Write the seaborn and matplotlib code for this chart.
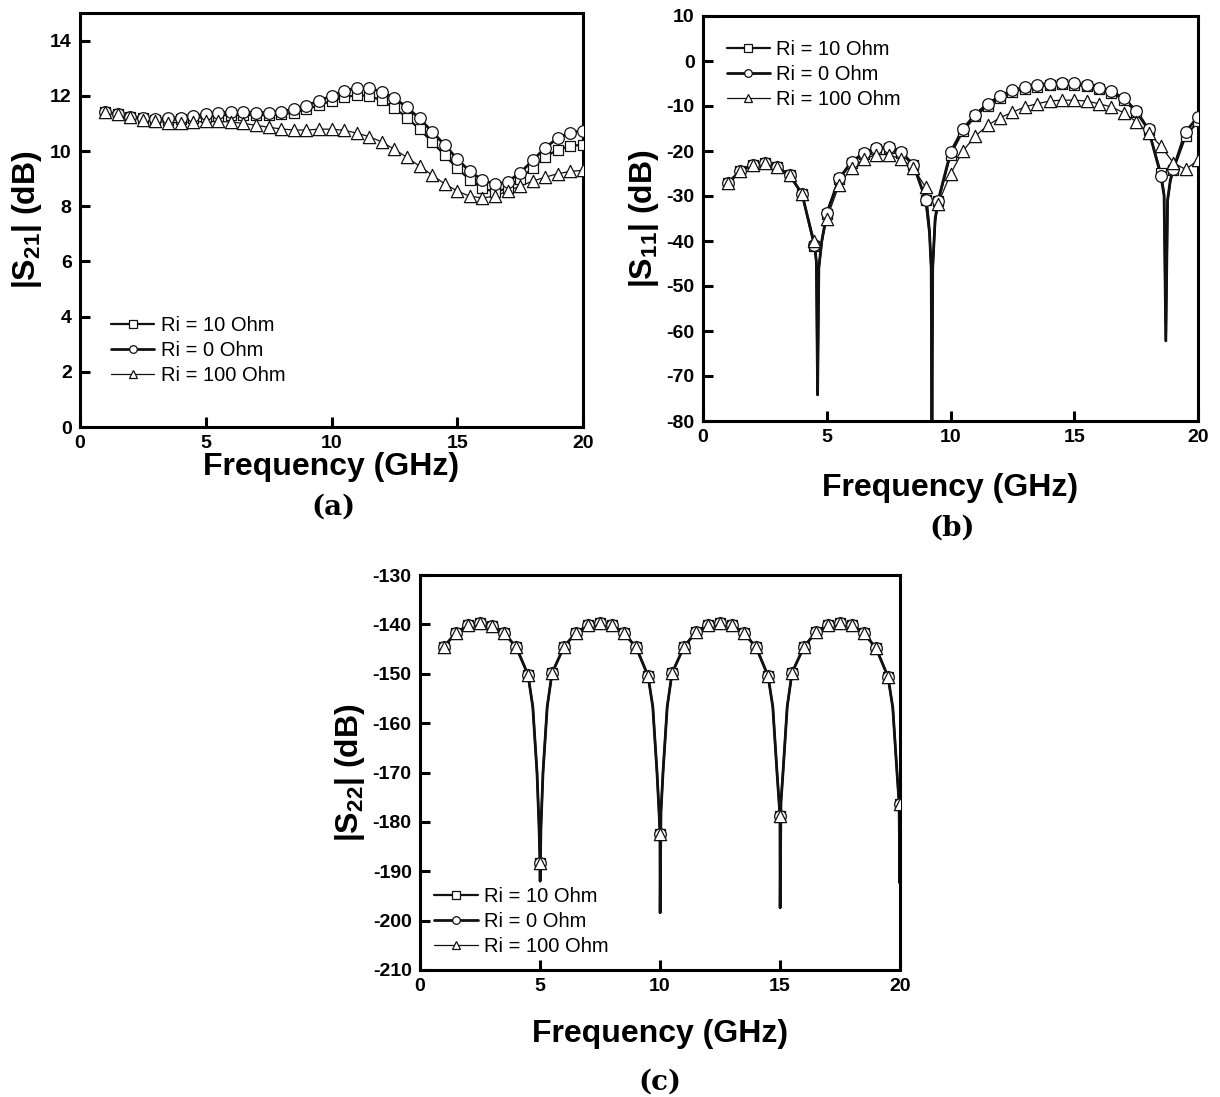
import matplotlib
matplotlib.use("Agg")
import matplotlib.pyplot as plt
import seaborn as sns
import pandas as pd
from matplotlib.lines import Line2D

# ---------------- data ----------------
freq = [1.0, 1.5, 2.0, 2.5, 3.0, 3.5, 4.0, 4.5, 5.0, 5.5, 6.0, 6.5, 7.0, 7.5, 8.0, 8.5,
        9.0, 9.5, 10.0, 10.5, 11.0, 11.5, 12.0, 12.5, 13.0, 13.5, 14.0, 14.5, 15.0,
        15.5, 16.0, 16.5, 17.0, 17.5, 18.0, 18.5, 19.0, 19.5, 20.0]

series_labels = ["Ri = 10 Ohm", "Ri = 0 Ohm", "Ri = 100 Ohm"]

# (a) |S21|
s21_ri10 = [11.43, 11.33, 11.25, 11.19, 11.13, 11.13, 11.15, 11.19, 11.24, 11.28, 11.31, 11.31,
            11.30, 11.30, 11.33, 11.39, 11.52, 11.66, 11.82, 11.95, 12.02, 12.00, 11.83, 11.56,
            11.21, 10.79, 10.33, 9.85, 9.37, 8.96, 8.65, 8.52, 8.65, 9.00, 9.39, 9.79, 10.05,
            10.18, 10.23]
s21_ri0 = [11.43, 11.33, 11.25, 11.19, 11.15, 11.18, 11.21, 11.27, 11.33, 11.38, 11.41, 11.41,
           11.39, 11.39, 11.42, 11.52, 11.64, 11.82, 12.00, 12.18, 12.28, 12.27, 12.15, 11.92,
           11.58, 11.18, 10.70, 10.22, 9.71, 9.26, 8.95, 8.79, 8.88, 9.21, 9.66, 10.12, 10.47,
           10.67, 10.73]
s21_ri100 = [11.43, 11.33, 11.24, 11.13, 11.07, 11.03, 11.03, 11.05, 11.07, 11.07, 11.05, 11.00,
             10.93, 10.86, 10.80, 10.76, 10.76, 10.79, 10.79, 10.75, 10.65, 10.52, 10.33, 10.06,
             9.77, 9.45, 9.13, 8.81, 8.55, 8.36, 8.30, 8.36, 8.55, 8.73, 8.91, 9.05, 9.18,
             9.26, 9.30]

# (b) |S11|
s11_ri10 = [-27.1, -24.5, -23.0, -22.6, -23.6, -25.4, -29.5, -41.2, -34.0, -26.3, -22.6, -20.6,
            -19.5, -19.4, -20.4, -23.2, -30.8, -31.2, -20.8, -15.6, -12.3, -9.9, -8.2, -6.9,
            -6.2, -5.7, -5.4, -5.2, -5.3, -5.6, -6.2, -7.0, -8.6, -11.3, -15.4, -24.9, -24.3,
            -16.7, -13.4]
s11_ri0 = [-27.1, -24.5, -23.0, -22.6, -23.6, -25.4, -29.5, -40.8, -33.8, -26.1, -22.4, -20.4,
           -19.3, -19.2, -20.2, -23.0, -30.8, -31.0, -20.3, -15.1, -11.9, -9.5, -7.8, -6.5,
           -5.8, -5.3, -5.0, -4.8, -4.9, -5.3, -5.9, -6.7, -8.3, -11.0, -15.2, -25.5, -24.0,
           -15.7, -12.4]
s11_ri100 = [-27.1, -24.5, -23.0, -22.6, -23.6, -25.4, -29.5, -40.1, -35.1, -27.5, -23.8, -21.8,
             -20.8, -20.8, -21.8, -23.8, -28.1, -31.7, -25.1, -20.0, -16.7, -14.3, -12.6, -11.4,
             -10.2, -9.5, -8.9, -8.7, -8.7, -8.9, -9.5, -10.2, -11.5, -13.5, -16.0, -18.9, -22.6,
             -24.1, -22.0]
# extra line points (no markers) read around the narrow resonance dips
s11_dip_f_ri0 = [4.58, 4.63, 4.68, 4.80, 9.15, 9.22, 9.25, 9.28, 9.38, 18.63, 18.70, 18.77, 18.88]
s11_dip_v_ri0 = [-44.5, -74.2, -46.0, -40.0, -38.0, -46.0, -85.0, -46.0, -35.0, -30.0, -62.2, -31.0, -26.5]
s11_dip_f_ri10 = [4.58, 4.63, 4.68, 4.80, 9.15, 9.22, 9.25, 9.28, 9.38, 18.63, 18.70, 18.77, 18.88]
s11_dip_v_ri10 = [-44.5, -74.2, -46.0, -40.0, -38.0, -46.0, -85.0, -46.0, -35.5, -29.5, -62.2, -31.0, -26.8]
s11_dip_f_ri100 = [4.58, 4.63, 4.68, 4.80, 9.15, 9.22, 9.25, 9.28, 9.38]
s11_dip_v_ri100 = [-44.0, -74.2, -46.0, -40.5, -36.0, -46.0, -85.0, -46.0, -36.0]

# (c) |S22| (all three series coincide)
s22_ri10 = [-144.5, -141.7, -140.2, -139.8, -140.3, -141.8, -144.5, -150.2, -188.3, -149.9,
            -144.5, -141.7, -140.2, -139.8, -140.2, -141.8, -144.6, -150.4, -182.5, -149.9,
            -144.5, -141.6, -140.2, -139.8, -140.2, -141.8, -144.6, -150.4, -178.9, -149.8,
            -144.5, -141.6, -140.2, -139.7, -140.2, -141.8, -144.8, -150.6, -176.4]
s22_ri0 = list(s22_ri10)
s22_ri100 = list(s22_ri10)
s22_dip_f = [4.70, 4.875, 4.96, 5.005, 5.04, 5.125, 5.30,
             9.70, 9.875, 9.96, 10.005, 10.04, 10.125, 10.30,
             14.70, 14.875, 14.96, 15.005, 15.04, 15.125, 15.30,
             19.70, 19.875, 19.96, 19.995]
s22_dip_v = [-156.7, -170.0, -181.0, -192.0, -181.0, -170.0, -156.7,
             -156.7, -170.0, -178.0, -198.4, -178.0, -170.0, -156.7,
             -156.7, -170.0, -176.0, -197.4, -176.0, -170.0, -156.7,
             -156.9, -170.0, -176.0, -192.4]

# ---------------- style ----------------
sns.set_theme(style="white")
plt.rcParams["font.family"] = ["Liberation Sans", "DejaVu Sans"]
plt.rcParams["axes.unicode_minus"] = False
plt.rcParams["mathtext.fontset"] = "custom"
plt.rcParams["mathtext.rm"] = "Liberation Sans:bold"
plt.rcParams["mathtext.bf"] = "Liberation Sans:bold"
plt.rcParams["mathtext.default"] = "rm"
for k in ["text.color", "axes.labelcolor", "xtick.color", "ytick.color", "axes.edgecolor"]:
    plt.rcParams[k] = "black"

INK = "#111111"
mk_style = {"Ri = 10 Ohm": ("s", 1.6, 52),
            "Ri = 0 Ohm": ("o", 2.0, 70),
            "Ri = 100 Ohm": ("^", 0.9, 78)}

fig = plt.figure(figsize=(12.2, 10.97), dpi=100)
ax_a = fig.add_axes([80 / 1220, 1 - 427 / 1097, 503 / 1220, 414 / 1097])
ax_b = fig.add_axes([703 / 1220, 1 - 421 / 1097, 495 / 1220, 405 / 1097])
ax_c = fig.add_axes([420 / 1220, 1 - 970 / 1097, 480 / 1220, 395 / 1097])


def draw(ax, vals_list, dips_list):
    for label, vals, dips in zip(series_labels, vals_list, dips_list):
        mk, lw, s = mk_style[label]
        df = pd.DataFrame({"f": freq, "v": vals})
        if dips is not None:
            df = pd.concat([df, pd.DataFrame({"f": dips[0], "v": dips[1]})])
        df = df.sort_values("f").reset_index(drop=True)
        sns.lineplot(data=df, x="f", y="v", ax=ax, color=INK, linewidth=lw,
                     estimator=None, sort=False, legend=False, zorder=2)
        sns.scatterplot(x=freq, y=vals, ax=ax, marker=mk, s=s, color="white",
                        edgecolor=INK, linewidth=0.9, legend=False, zorder=3)


def style(ax, ylim, yticks, ylabel, leg_anchor, xpad):
    ax.set_xlim(0, 20)
    ax.set_ylim(*ylim)
    ax.set_xticks([0, 5, 10, 15, 20])
    ax.set_yticks(yticks)
    for sp in ax.spines.values():
        sp.set_linewidth(2.2)
        sp.set_color("black")
    ax.tick_params(axis="both", which="major", direction="in", length=7, width=2.2,
                   labelsize=14, pad=6, bottom=True, left=True, top=False, right=False,
                   colors="black")
    for t in ax.get_xticklabels() + ax.get_yticklabels():
        t.set_fontweight("bold")
    ax.set_xlabel("Frequency (GHz)", fontsize=23, fontweight="bold", labelpad=xpad)
    ax.set_ylabel(ylabel, fontsize=23, fontweight="bold", labelpad=4)
    handles = []
    for label in series_labels:
        mk, lw, s = mk_style[label]
        handles.append(Line2D([], [], color=INK, linewidth=lw, marker=mk, markersize=5.5,
                              markerfacecolor="white", markeredgecolor=INK,
                              markeredgewidth=0.9, label=label))
    ax.legend(handles=handles, loc="upper left", bbox_to_anchor=leg_anchor, frameon=False,
              fontsize=14.5, handlelength=2.15, handletextpad=0.3, labelspacing=0.3,
              borderpad=0, borderaxespad=0, labelcolor="black")


draw(ax_a, [s21_ri10, s21_ri0, s21_ri100], [None, None, None])
style(ax_a, (0, 15), [0, 2, 4, 6, 8, 10, 12, 14], "|S$_{21}$| (dB)", (0.062, 0.268), 0)

draw(ax_b, [s11_ri10, s11_ri0, s11_ri100],
     [(s11_dip_f_ri10, s11_dip_v_ri10), (s11_dip_f_ri0, s11_dip_v_ri0),
      (s11_dip_f_ri100, s11_dip_v_ri100)])
style(ax_b, (-80, 10), list(range(-80, 11, 10)), "|S$_{11}$| (dB)", (0.048, 0.94), 19)

draw(ax_c, [s22_ri10, s22_ri0, s22_ri100],
     [(s22_dip_f, s22_dip_v)] * 3)
style(ax_c, (-210, -130), list(range(-210, -129, 10)), "|S$_{22}$| (dB)", (0.03, 0.21), 17)

for x, y, t in [(333, 507, "(a)"), (952, 528, "(b)"), (660, 1082, "(c)")]:
    fig.text(x / 1220, 1 - y / 1097, t, ha="center", va="center",
             fontfamily="DejaVu Serif", fontweight="bold", fontsize=20)

fig.savefig("out.png", dpi=100, facecolor="white")
